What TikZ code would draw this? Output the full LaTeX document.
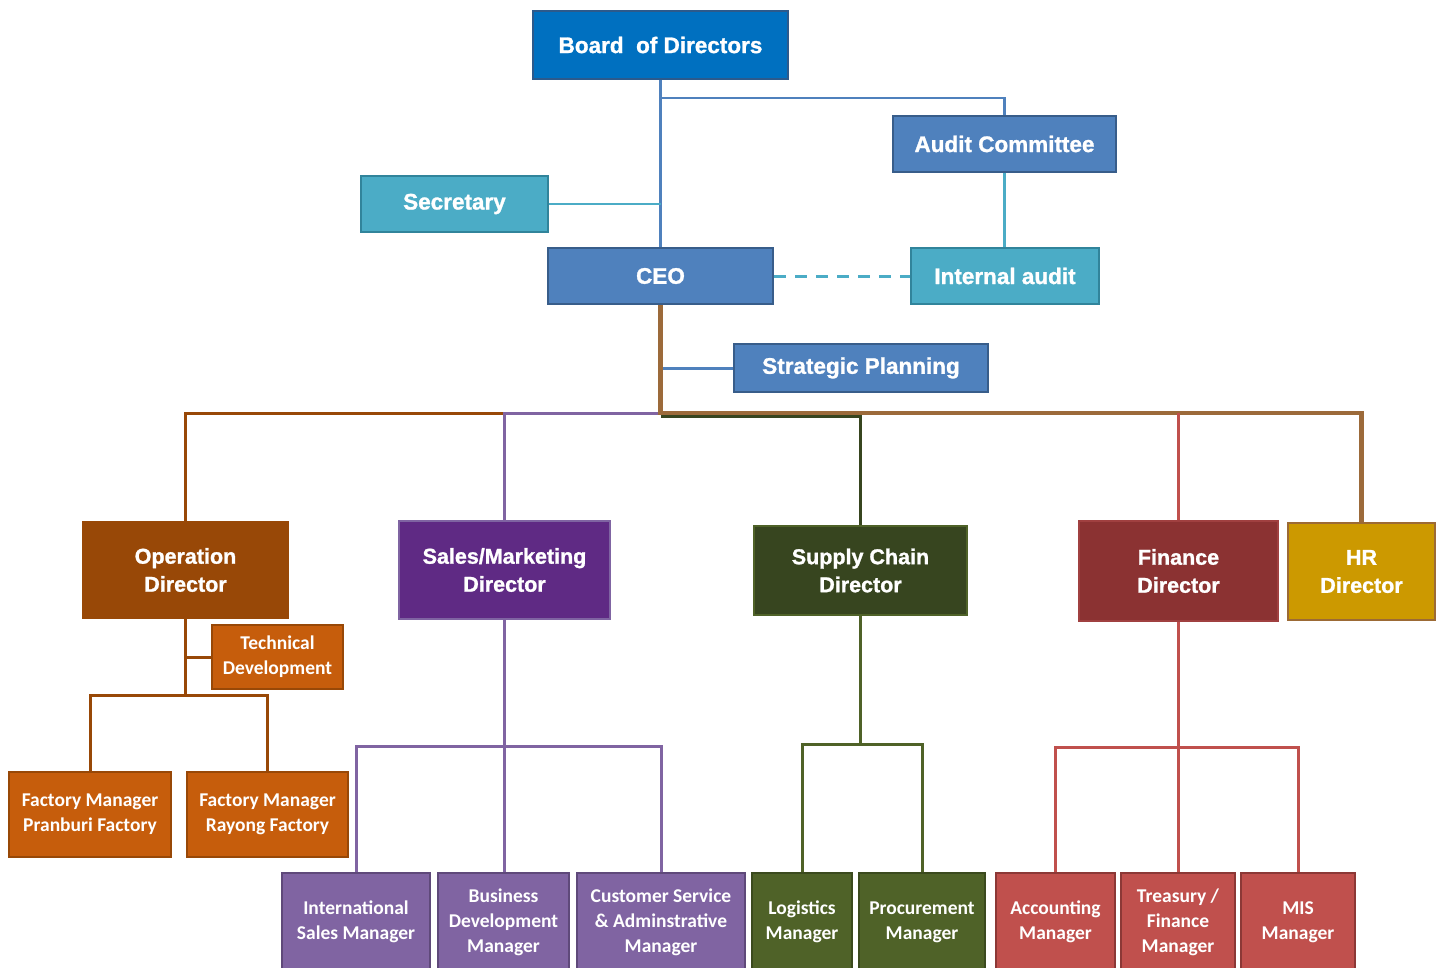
\documentclass[tikz,border=0pt]{standalone}
\usepackage{fontspec}
\setmainfont{Liberation Sans}
\newfontfamily\heavyfont[FakeBold=1.2]{Liberation Sans Bold}
\newfontfamily\mgrfont{Carlito}
\definecolor{cBoard}{HTML}{0070C0}
\definecolor{cBoardD}{HTML}{2C5A8C}
\definecolor{cBlue}{HTML}{4F81BD}
\definecolor{cBlueD}{HTML}{385D8A}
\definecolor{cTeal}{HTML}{4BACC6}
\definecolor{cTealD}{HTML}{31849B}
\definecolor{cOp}{HTML}{984807}
\definecolor{cSales}{HTML}{5F2A84}
\definecolor{cSalesB}{HTML}{7F64A2}
\definecolor{cSupply}{HTML}{37451F}
\definecolor{cSupplyB}{HTML}{4F6228}
\definecolor{cFin}{HTML}{8B3232}
\definecolor{cFinB}{HTML}{A04040}
\definecolor{cHR}{HTML}{CC9900}
\definecolor{cHRB}{HTML}{9C6A35}
\definecolor{cOrange}{HTML}{C65D0C}
\definecolor{cPurple}{HTML}{8064A2}
\definecolor{cPurpleD}{HTML}{5F497A}
\definecolor{cGreen}{HTML}{4F6228}
\definecolor{cGreenD}{HTML}{3B4A1E}
\definecolor{cRed}{HTML}{C0504D}
\definecolor{cRedD}{HTML}{8C3836}
\definecolor{cTrunk}{HTML}{9C6A3A}
\begin{document}
\begin{tikzpicture}[x=1pt,y=-1pt,
  box/.style={draw, line width=2pt, inner sep=0pt, align=center, text=white},
  toptext/.style={font=\heavyfont\fontsize{22.5}{28}\selectfont},
  dirtext/.style={font=\heavyfont\fontsize{21.5}{28}\selectfont},
  mgrtext/.style={font=\mgrfont\fontsize{19.5}{25}\selectfont\bfseries},
  blueline/.style={draw=cBlue, line width=2.5pt},
  tealline/.style={draw=cTeal, line width=2.5pt},
  trunk/.style={draw=cTrunk, line width=4.5pt},
  opline/.style={draw=cOp, line width=3pt},
  salesline/.style={draw=cPurple, line width=3pt},
  supline/.style={draw=cSupply, line width=3pt},
  greenline/.style={draw=cGreen, line width=3pt},
  redline/.style={draw=cRed, line width=3pt}
]
\useasboundingbox (0,0) rectangle (1441,967);
\clip (0,0) rectangle (1441,967);
\fill[white] (0,0) rectangle (1441,967);

% top nodes
\node[box, toptext, fill=cBoard, draw=cBoardD, minimum width=255, minimum height=68] (board) at (660.5,45) {Board\ \ of Directors};
\node[box, toptext, fill=cBlue, draw=cBlueD, minimum width=223, minimum height=56] (audit) at (1004.5,144) {Audit Committee};
\node[box, toptext, fill=cTeal, draw=cTealD, minimum width=187, minimum height=56] (secretary) at (454.5,204) {Secretary};
\node[box, toptext, fill=cBlue, draw=cBlueD, minimum width=225, minimum height=56] (ceo) at (660.5,276) {CEO};
\node[box, toptext, fill=cTeal, draw=cTealD, minimum width=188, minimum height=56] (internal) at (1005,276) {Internal audit};
\node[box, toptext, fill=cBlue, draw=cBlueD, minimum width=254, minimum height=48] (strategic) at (861,368) {Strategic Planning};

% directors
\node[box, dirtext, fill=cOp, draw=cOp, minimum width=205, minimum height=96] (opdir) at (185.5,570) {Operation\\Director};
\node[box, dirtext, fill=cSales, draw=cSalesB, minimum width=211, minimum height=98] (sales) at (504.5,570) {Sales/Marketing\\Director};
\node[box, dirtext, fill=cSupply, draw=cSupplyB, minimum width=213, minimum height=89] (supply) at (860.5,570.5) {Supply Chain\\Director};
\node[box, dirtext, fill=cFin, draw=cFinB, minimum width=199, minimum height=100] (finance) at (1178.5,571) {Finance\\Director};
\node[box, dirtext, fill=cHR, draw=cHRB, minimum width=147, minimum height=97] (hr) at (1361.5,571.5) {HR\\Director};

% operation subtree
\node[box, mgrtext, fill=cOrange, draw=cOp, minimum width=131, minimum height=64] (tech) at (277.5,657) {Technical\\Development};
\node[box, mgrtext, fill=cOrange, draw=cOp, minimum width=162, minimum height=85] (fm1) at (90,814.5) {Factory Manager\\Pranburi Factory};
\node[box, mgrtext, fill=cOrange, draw=cOp, minimum width=161, minimum height=85] (fm2) at (267.5,814.5) {Factory Manager\\Rayong Factory};

% sales subtree
\node[box, mgrtext, fill=cPurple, draw=cPurpleD, minimum width=148, minimum height=98] (intl) at (356,922) {International\\Sales Manager};
\node[box, mgrtext, fill=cPurple, draw=cPurpleD, minimum width=131, minimum height=98] (busdev) at (503.5,922) {Business\\Development\\Manager};
\node[box, mgrtext, fill=cPurple, draw=cPurpleD, minimum width=168, minimum height=98] (cust) at (661,922) {Customer Service\\\&~Adminstrative\\Manager};

% supply subtree
\node[box, mgrtext, fill=cGreen, draw=cGreenD, minimum width=100, minimum height=98] (logi) at (802,922) {Logistics\\Manager};
\node[box, mgrtext, fill=cGreen, draw=cGreenD, minimum width=126, minimum height=98] (proc) at (922,922) {Procurement\\Manager};

% finance subtree
\node[box, mgrtext, fill=cRed, draw=cRedD, minimum width=119, minimum height=98] (acct) at (1055.5,922) {Accounting\\Manager};
\node[box, mgrtext, fill=cRed, draw=cRedD, minimum width=114, minimum height=98] (treas) at (1178,922) {Treasury /\\Finance\\Manager};
\node[box, mgrtext, fill=cRed, draw=cRedD, minimum width=114, minimum height=98] (mis) at (1298,922) {MIS\\Manager};

% junction coordinates
\coordinate (j1) at (660.5,98);
\coordinate (hub) at (660.5,413);
\coordinate (hub2) at (660.5,416);
\coordinate (opj) at (185.5,695);
\coordinate (salesj) at (504.5,746);
\coordinate (supj) at (860.5,744);
\coordinate (finj) at (1178.5,747);

% top connectors
\draw[blueline] (board.south) -- (ceo.north);
\draw[blueline] (j1) -| (audit.north);
\draw[tealline] (secretary.east) -- (secretary.east -| board.south);
\draw[tealline] (audit.south) -- (audit.south |- internal.north);
\draw[draw=cTeal, line width=3pt, dash pattern=on 12pt off 9pt] (ceo.east) -- (internal.west);
\draw[blueline, line width=3pt] (strategic.west) -- ([xshift=2pt]strategic.west -| ceo.south);

% director connectors
\draw[opline] (hub) -| (opdir.north);
\draw[salesline] (hub) -| (sales.north);
\draw[supline] (hub2) -| (supply.north);
\draw[trunk] (ceo.south) -- (hub) -| (hr.north);
\draw[draw=cRed, line width=2.5pt] (finance.north |- hub) -- (finance.north);

% operation subtree
\draw[opline] (opdir.south) -- (opj);
\draw[opline] (tech.west) -- (tech.west -| opdir.south);
\draw[opline] (fm1.north) |- (opj) -| (fm2.north);

% sales subtree
\draw[salesline] (sales.south) -- (sales.south |- busdev.north);
\draw[salesline] (intl.north) |- (salesj) -| (cust.north);

% supply subtree
\draw[greenline] (supply.south) -- (supj);
\draw[greenline] (logi.north) |- (supj) -| (proc.north);

% finance subtree
\draw[redline] (finance.south) -- (finance.south |- treas.north);
\draw[redline] (acct.north) |- (finj) -| (mis.north);
\end{tikzpicture}
\end{document}
